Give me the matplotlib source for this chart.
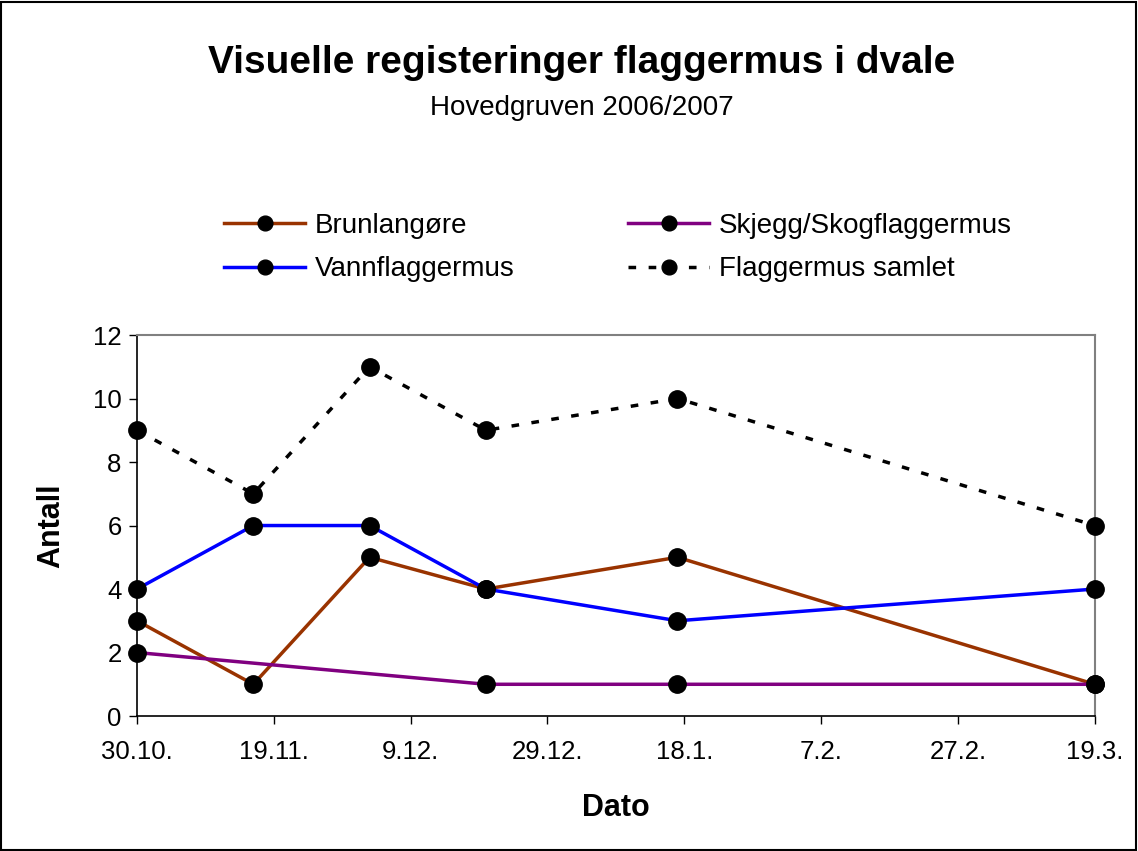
import datetime as dt
import matplotlib
matplotlib.use("Agg")
import matplotlib.pyplot as plt
import matplotlib.dates as mdates
import numpy as np
from matplotlib.patches import Rectangle

plt.rcParams["font.family"] = ["Liberation Sans", "DejaVu Sans"]

# Data
dates = ["2006-10-30", "2006-11-16", "2006-12-03", "2006-12-20", "2007-01-17", "2007-03-19"]
brunlangore = [3, 1, 5, 4, 5, 1]
skjegg_skog = [2, None, None, 1, 1, 1]
vannflaggermus = [4, 6, 6, 4, 3, 4]
samlet = [9, 7, 11, 9, 10, 6]

tick_dates = ["2006-10-30", "2006-11-19", "2006-12-09", "2006-12-29",
              "2007-01-18", "2007-02-07", "2007-02-27", "2007-03-19"]

x = [dt.datetime.strptime(d, "%Y-%m-%d") for d in dates]
xt = [dt.datetime.strptime(d, "%Y-%m-%d") for d in tick_dates]

fig = plt.figure(figsize=(11.38, 8.51), dpi=100)
ax = fig.add_axes([0.1204, 0.1586, 0.8416, 0.4477])

series = [
    ("Brunlangøre", brunlangore, "#993300", "-"),
    ("Skjegg/Skogflaggermus", skjegg_skog, "#800080", "-"),
    ("Vannflaggermus", vannflaggermus, "#0000ff", "-"),
    ("Flaggermus samlet", samlet, "black", (0, (2.2, 3.6))),
]

handles = {}
for name, vals, col, ls in series:
    xs = [xi for xi, v in zip(x, vals) if v is not None]
    ys = [v for v in vals if v is not None]
    h, = ax.plot(xs, ys, color=col, lw=2.5, linestyle=ls, marker="o",
                 markersize=12.5, markerfacecolor="black", markeredgecolor="black",
                 dash_capstyle="butt", clip_on=False, zorder=3, label=name)
    handles[name] = h

ax.set_xlim(xt[0], xt[-1])
ax.set_ylim(0, 12)
ax.set_yticks(np.arange(0, 13, 2))
ax.set_xticks(xt)
ax.xaxis.set_major_formatter(mdates.DateFormatter("%-d.%-m."))

for s in ["left", "bottom"]:
    ax.spines[s].set_color("black")
    ax.spines[s].set_linewidth(1.2)
for s in ["top", "right"]:
    ax.spines[s].set_color("#808080")
    ax.spines[s].set_linewidth(1.5)

ax.tick_params(axis="both", labelsize=18.5, length=6, width=1, direction="out")
ax.tick_params(axis="x", pad=11)
ax.tick_params(axis="y", pad=5)

ax.set_ylabel("Antall", fontsize=22, fontweight="bold", labelpad=19)
ax.set_xlabel("Dato", fontsize=22, fontweight="bold", labelpad=21)

fig.text(0.511, 0.926, "Visuelle registeringer flaggermus i dvale",
         ha="center", va="center", fontsize=28, fontweight="bold")
fig.text(0.511, 0.873, "Hovedgruven 2006/2007", ha="center", va="center", fontsize=20)

# row-wise legend order as in the original
order = ["Brunlangøre", "Vannflaggermus", "Skjegg/Skogflaggermus", "Flaggermus samlet"]
fig.legend(handles=[handles[k] for k in order], ncol=2, loc="center",
           bbox_to_anchor=(0.543, 0.709), frameon=False, fontsize=20,
           handlelength=2.9, handletextpad=0.35, columnspacing=4.1,
           labelspacing=0.62, markerscale=0.85)

# outer chart border
fig.patches.append(Rectangle((0.001, 0.001), 0.997, 0.997, transform=fig.transFigure,
                             fill=False, edgecolor="black", linewidth=1.5))

fig.savefig("out.png", dpi=100, facecolor="white")
